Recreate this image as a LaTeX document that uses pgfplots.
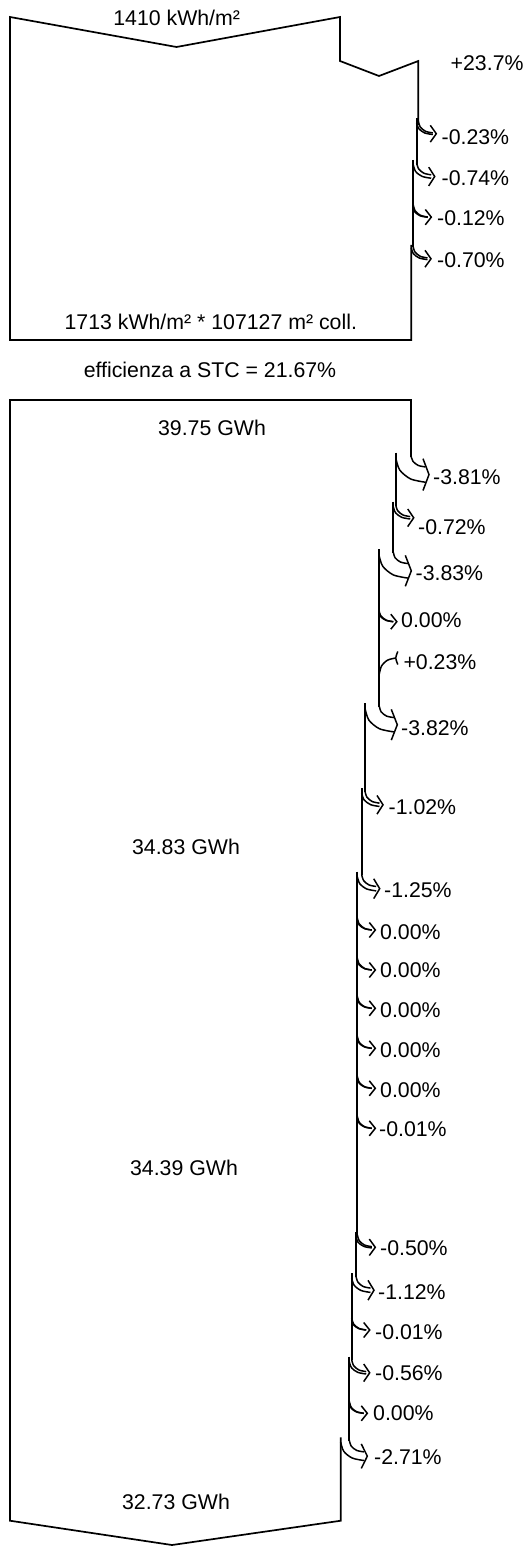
\documentclass[border=0pt]{standalone}
\usepackage{fontspec}
\setmainfont{Liberation Sans}
\usepackage{pgfplots}
\pgfplotsset{compat=1.18}
\newcommand\lbl{\fontsize{21.3}{25}\selectfont}

% one loss arrow: #1 = y where the new edge starts, #2 = old edge x, #3 = new edge x
\newcommand\lossarrow[3]{%
  \pgfmathsetmacro\arW{#2-#3}%
  \pgfmathsetmacro\arTip{#2+15.5}%
  \pgfmathsetmacro\arYc{#1+15+0.45*\arW}%
  \pgfmathsetmacro\arHH{7.5+0.55*\arW}%
  % inner curve
  \pgfmathsetmacro\arXs{#2}\pgfmathsetmacro\arYs{#1+3}%
  \pgfmathsetmacro\arA{\arTip-1-\arXs}\pgfmathsetmacro\arB{\arYc-\arW/2-\arYs}%
  \addplot[arr, smooth] coordinates {
    (\arXs,\arYs)
    ({\arXs+\arA*(1-cos(30))},{\arYs+\arB*sin(30)})
    ({\arXs+\arA*(1-cos(60))},{\arYs+\arB*sin(60)})
    ({\arXs+\arA},{\arYs+\arB})};
  % outer curve
  \pgfmathsetmacro\arXs{#3}\pgfmathsetmacro\arYs{#1+5}%
  \pgfmathsetmacro\arA{\arTip-1-\arXs}\pgfmathsetmacro\arB{\arYc+\arW/2-\arYs}%
  \addplot[arr, smooth] coordinates {
    (\arXs,\arYs)
    ({\arXs+\arA*(1-cos(30))},{\arYs+\arB*sin(30)})
    ({\arXs+\arA*(1-cos(60))},{\arYs+\arB*sin(60)})
    ({\arXs+\arA},{\arYs+\arB})};
  % head
  \addplot[arr] coordinates {
    ({\arTip-3.5},{\arYc-\arHH}) ({\arTip+2.5},\arYc) ({\arTip-3.5},{\arYc+\arHH})};
}

% gain arrow: #1 = y of bracket, #2 = edge x
\newcommand\gainarrow[2]{%
  \addplot[arr, smooth] coordinates {
    ({#2+16.5},#1)
    ({#2+16.5-16.5*sin(30)},{#1+16*(1-cos(30))})
    ({#2+16.5-16.5*sin(60)},{#1+16*(1-cos(60))})
    (#2,{#1+16})};
  \addplot[arr, smooth] coordinates {
    ({#2+18.5},{#1-6.5}) ({#2+16.5},#1) ({#2+18.5},{#1+6.5})};
}

\begin{document}
\begin{tikzpicture}
\begin{axis}[
  scale only axis,
  width=522pt, height=1546pt,
  xmin=0, xmax=522, ymin=0, ymax=1546,
  y dir=reverse,
  hide axis,
  clip=false,
  outl/.style={black, line width=1.7pt, mark=none},
  arr/.style={black, line width=1.5pt, mark=none},
  lab/.style={draw=none, mark=none, nodes near coords,
    point meta=explicit symbolic,
    nodes near coords style={anchor=#1, inner sep=0pt, font=\lbl, text=black}},
]
\addplot[draw=none, mark=none] coordinates {(0,0) (522,1546)};

% --- irradiance box ---
\addplot[outl] coordinates {
  (411.3,245) (411.3,340) (10,340) (10,17) (176.5,47) (340,17)
  (340,61) (379,76) (418.3,61) (418.3,125)};
\addplot[outl, unbounded coords=jump] coordinates {
  (416.7,118) (416.7,165) (nan,nan)
  (413.3,160) (413.3,206) (nan,nan)
  (413,202) (413,247)};
\lossarrow{118}{418.3}{416.7}
\lossarrow{160}{416.7}{413.3}
\lossarrow{202}{413.3}{413}
\lossarrow{243}{413}{411.3}

% --- energy box ---
\addplot[outl] coordinates {
  (411,457) (411,400) (10,400) (10,1520.7) (172,1545) (340.7,1520.7) (340.7,1437.3)};
\addplot[outl, unbounded coords=jump] coordinates {
  (395.7,452.7) (395.7,506) (nan,nan)
  (393.3,501.7) (393.3,553) (nan,nan)
  (378.8,549.3) (378.8,676) (nan,nan)
  (379.3,672) (379.3,707) (nan,nan)
  (365,703.3) (365,792) (nan,nan)
  (361.7,788.3) (361.7,875) (nan,nan)
  (357.3,871.7) (357.3,1235) (nan,nan)
  (356,1231.7) (356,1277) (nan,nan)
  (351.7,1273.3) (351.7,1360) (nan,nan)
  (349.3,1356.7) (349.3,1441)};
\lossarrow{452.7}{411}{395.7}
\lossarrow{501.7}{395.7}{393.3}
\lossarrow{549.3}{393.3}{378.8}
\lossarrow{606.7}{378.8}{378.8}
\gainarrow{658}{379.3}
\lossarrow{703.3}{379.3}{365}
\lossarrow{788.3}{365}{361.7}
\lossarrow{871.7}{361.7}{357.3}
\lossarrow{915}{357.3}{357.3}
\lossarrow{955}{357.3}{357.3}
\lossarrow{993.3}{357.3}{357.3}
\lossarrow{1033.3}{357.3}{357.3}
\lossarrow{1073.3}{357.3}{357.3}
\lossarrow{1113.3}{357.3}{357.3}
\lossarrow{1231.7}{357.3}{356}
\lossarrow{1273.3}{356}{351.7}
\lossarrow{1315}{351.7}{351.7}
\lossarrow{1356.7}{351.7}{349.3}
\lossarrow{1398.3}{349.3}{349.3}
\lossarrow{1437.3}{349.3}{340.7}

% --- percentages ---
\addplot[lab=west] table[col sep=comma, row sep=\\, meta=t] {
x,y,t\\
450.5,63,+23.7\%\\
441.5,137,-0.23\%\\
441.5,178,-0.74\%\\
437,218,-0.12\%\\
437,260,-0.70\%\\
433,477,-3.81\%\\
418,527,-0.72\%\\
415.5,572.7,-3.83\%\\
401,620,0.00\%\\
403.3,661.7,+0.23\%\\
401,728.3,-3.82\%\\
388.5,806.7,-1.02\%\\
384,890,-1.25\%\\
380,931.7,0.00\%\\
380,970,0.00\%\\
380,1010,0.00\%\\
380,1050,0.00\%\\
380,1090,0.00\%\\
379,1129.3,-0.01\%\\
380,1248.3,-0.50\%\\
378,1291.7,-1.12\%\\
375,1331.7,-0.01\%\\
375,1372.7,-0.56\%\\
373,1413.3,0.00\%\\
374,1456.7,-2.71\%\\
};

% --- centred labels ---
\addplot[lab=center] table[col sep=comma, row sep=\\, meta=t] {
x,y,t\\
176.7,17.5,1410 kWh/m²\\
210.8,322,1713 kWh/m² * 107127 m² coll.\\
210,370,efficienza a STC = 21.67\%\\
212,428.3,39.75 GWh\\
186,846.7,34.83 GWh\\
184,1168,34.39 GWh\\
176,1501.7,32.73 GWh\\
};
\end{axis}
\end{tikzpicture}
\end{document}
